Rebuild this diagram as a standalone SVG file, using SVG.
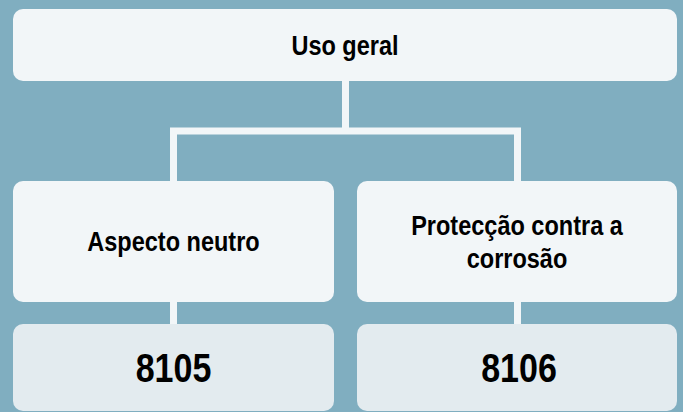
<svg xmlns="http://www.w3.org/2000/svg" width="683" height="412" viewBox="0 0 683 412">
<style>
.bg{fill:#80AEC0}
.box{fill:#F2F6F8}
.num{fill:#E3EBEF}
.lbl{font-family:"Liberation Sans",Arial,sans-serif;font-weight:bold;font-size:28px;fill:#000;text-anchor:middle}
.big{font-family:"Liberation Sans",Arial,sans-serif;font-weight:bold;font-size:41px;fill:#000;text-anchor:middle}
.conn{stroke:#F2F6F8;stroke-width:7;fill:none}
</style>
<rect class="bg" x="0" y="0" width="683" height="412"/>
<g id="connectors">
<path class="conn" d="M345.5 80 V131 M170 131 H521 M173.5 131 V182 M517.5 131 V182"/>
<path class="conn" d="M173.5 300 V325 M517.5 300 V325"/>
</g>
<g id="uso-geral">
<rect class="box" x="13" y="9" width="664" height="72" rx="10"/>
<text class="lbl" transform="translate(345,55) scale(0.84,1)">Uso geral</text>
</g>
<g id="aspecto-neutro">
<rect class="box" x="13" y="181" width="321" height="121" rx="10"/>
<text class="lbl" transform="translate(173.5,251) scale(0.84,1)">Aspecto neutro</text>
</g>
<g id="proteccao">
<rect class="box" x="357" y="181" width="320" height="121" rx="10"/>
<text class="lbl" transform="translate(517,235) scale(0.84,1)">Protecção contra a</text>
<text class="lbl" transform="translate(517,268) scale(0.84,1)">corrosão</text>
</g>
<g id="n8105">
<rect class="num" x="13" y="324" width="321" height="87" rx="10"/>
<text class="big" transform="translate(173.5,382) scale(0.83,1)">8105</text>
</g>
<g id="n8106">
<rect class="num" x="357" y="324" width="320" height="87" rx="10"/>
<text class="big" transform="translate(519,382) scale(0.83,1)">8106</text>
</g>
</svg>
